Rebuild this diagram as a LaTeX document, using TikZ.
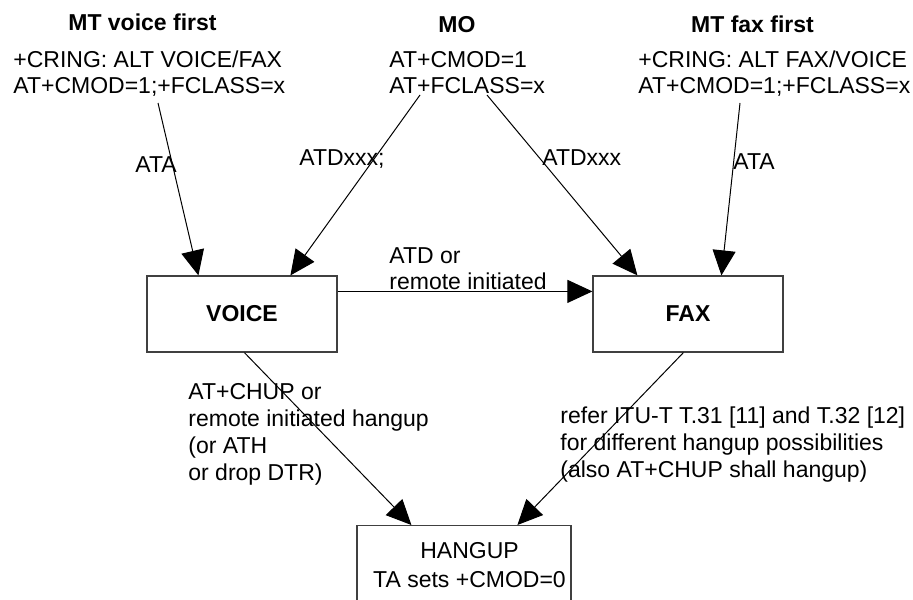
\documentclass[tikz,border=0pt]{standalone}
\usepackage{fontspec}
\setmainfont{Liberation Sans}
\usetikzlibrary{calc,arrows.meta}

\begin{document}
\begin{tikzpicture}[x=0.5pt,y=0.5pt,
        every node/.style={inner sep=0pt, font=\fontsize{11.5}{13}\selectfont},
        txt/.style={anchor=base west, align=left},
        title/.style={anchor=base, font=\fontsize{11.5}{13}\selectfont\bfseries},
        state/.style={draw=black!75, line width=0.6pt, minimum width=95pt, minimum height=38pt},
        arr/.style={-{Triangle[length=12.5pt,width=11.5pt]}, line width=0.5pt}]
            \useasboundingbox (0,0) rectangle (913,-599);
            \clip (0,0) rectangle (913,-599);

            % Titles
            \node[title] (tvoice) at (142.5,-31) {MT voice first};
            \node[title] (tmo) at (457,-33) {MO};
            \node[title] (tfax) at (752.5,-33) {MT fax first};

            % Commands (base = last line)
            \node[txt] (kvoice) at (13,-93) {+CRING: ALT VOICE/FAX\\AT+CMOD=1;+FCLASS=x};
            \node[txt] (kmo) at (389,-93) {AT+CMOD=1\\AT+FCLASS=x};
            \node[txt] (kfax) at (638,-93) {+CRING: ALT FAX/VOICE\\AT+CMOD=1;+FCLASS=x};

            % States
            \node[state, font=\fontsize{11.5}{13}\selectfont\bfseries] (voice) at (242,-314) {VOICE};
            \node[state, font=\fontsize{11.5}{13}\selectfont\bfseries] (fax) at (688,-314) {FAX};
            \node[state, anchor=north, minimum width=107pt, minimum height=100pt] (hangup) at (464,-525) {};
            \node[anchor=base, align=center, font=\fontsize{11.5}{14.5}\selectfont] (thangup) at (469.5,-587) {HANGUP\\TA sets +CMOD=0};

            % Start points
            \coordinate (cvoice) at (158,-103);
            \coordinate (cmoa) at (420,-95);
            \coordinate (cmob) at (487,-95);
            \coordinate (cfax) at (740,-103);

            % Transitions
            \foreach \from/\to/\dx in {cvoice/voice/52, cmoa/voice/144, cmob/fax/45, cfax/fax/129}
                \draw[arr] (\from) -- ($(\to.north west)+(\dx,0)$);
            \draw[arr] ($(voice.north east)+(0,-16)$) -- ($(fax.north west)+(0,-16)$);
            \draw[arr] ($(voice.south west)+(98,0)$) -- ($(hangup.north west)+(55,0)$);
            \draw[arr] ($(fax.south west)+(91,0)$) -- ($(hangup.north west)+(161,0)$);

            % Labels
            \node[txt] (lata) at (135,-172) {ATA};
            \node[txt] (ldvoice) at (299,-165) {ATDxxx;};
            \node[txt] (ldfax) at (542,-165) {ATDxxx};
            \node[txt] (lataf) at (733,-169) {ATA};
            \node[txt] (lswitch) at (389,-289) {ATD or\\remote initiated};
            \node[txt, font=\fontsize{11.5}{13.4}\selectfont] (lhvoice) at (188,-480) {AT+CHUP or\\remote initiated hangup\\(or ATH\\or drop DTR)};
            \node[txt, font=\fontsize{11.5}{13.5}\selectfont] (lhfax) at (560,-477) {refer ITU-T T.31 [11] and T.32 [12]\\for different hangup possibilities\\(also AT+CHUP shall hangup)};
\end{tikzpicture}
\end{document}
